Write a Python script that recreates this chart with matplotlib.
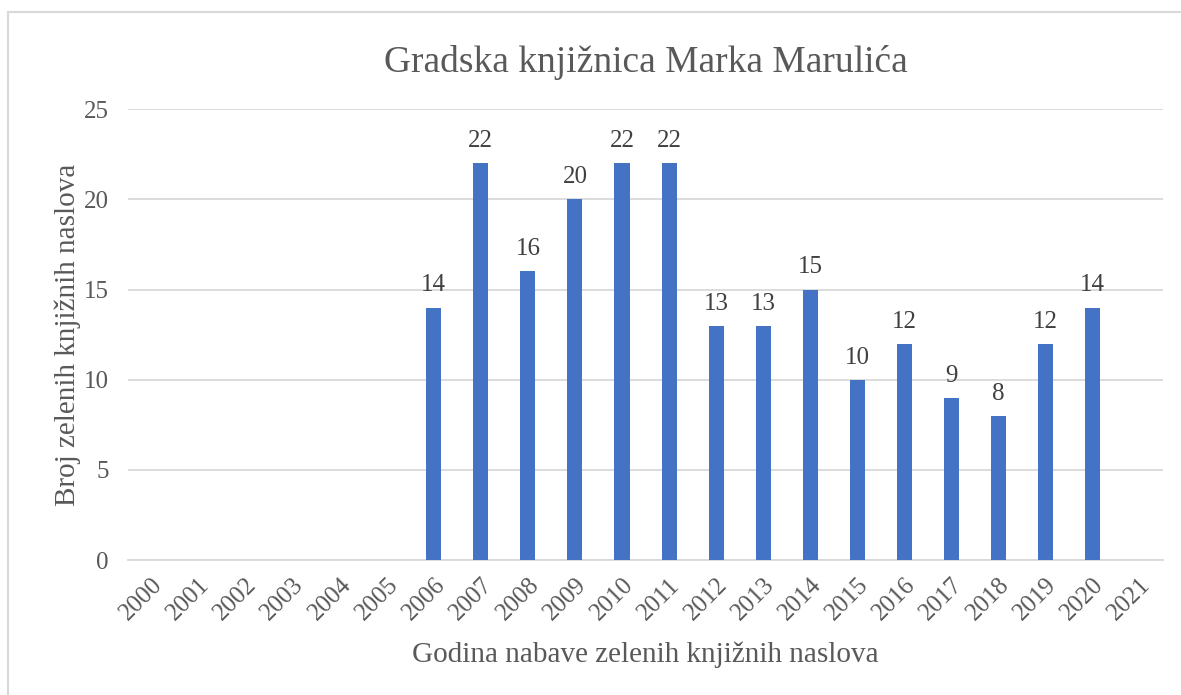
import matplotlib.pyplot as plt
from matplotlib.patches import Rectangle

plt.rcParams['font.family'] = ['Liberation Serif', 'DejaVu Serif']

years = [str(y) for y in range(2000, 2022)]
counts = [0, 0, 0, 0, 0, 0, 14, 22, 16, 20, 22, 22, 13, 13, 15, 10, 12, 9, 8, 12, 14, 0]

title = 'Gradska knjižnica Marka Marulića'
x_label = 'Godina nabave zelenih knjižnih naslova'
y_label = 'Broj zelenih knjižnih naslova'

fig = plt.figure(figsize=(11.81, 6.95), dpi=100)
ax = fig.add_axes([0.1084, 0.194, 0.8764, 0.649])

# outer chart border (goes off the right/bottom edge like in the screenshot)
fig.patches.append(Rectangle((8 / 1181, -0.05), 1.2, 1 - 12 / 695 + 0.05,
                             transform=fig.transFigure, fill=False,
                             edgecolor='#d9d9d9', linewidth=1.5))

x = list(range(len(years)))
bars = ax.bar(x, counts, width=0.32, color='#4472C4', zorder=3)
for xi, v in zip(x, counts):
    if v > 0:
        ax.annotate(str(v), (xi, v), xytext=(0, 8), textcoords='offset points',
                    ha='center', va='bottom', fontsize=18, color='#404040')

ax.set_xlim(-0.5, len(years) - 0.5)
ax.set_ylim(0, 25)
ax.set_yticks([0, 5, 10, 15, 20, 25])
ax.set_xticks(x)
ax.set_xticklabels(years, rotation=45, ha='right', rotation_mode='anchor',
                   fontsize=18, color='#595959')
ax.tick_params(axis='y', labelsize=18, labelcolor='#595959', length=0, pad=14)
ax.tick_params(axis='x', length=0, pad=10)
ax.grid(axis='y', color='#d9d9d9', linewidth=1.3, zorder=0)
for s in ['top', 'right', 'left']:
    ax.spines[s].set_visible(False)
ax.spines['bottom'].set_color('#d9d9d9')
ax.spines['bottom'].set_linewidth(1.3)

ax.set_title(title, fontsize=27, color='#595959', pad=27)
ax.set_xlabel(x_label, fontsize=21, color='#595959', labelpad=12)
ax.set_ylabel(y_label, fontsize=21, color='#595959', labelpad=2)

fig.savefig('out.png', dpi=100)
